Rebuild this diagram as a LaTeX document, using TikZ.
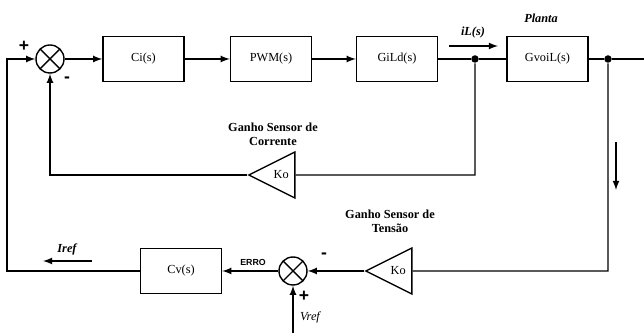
\documentclass[tikz,border=0pt]{standalone}
\usepackage{fontspec}
\setmainfont{Liberation Serif}
\setsansfont{Liberation Sans}
\usetikzlibrary{arrows,calc,shapes.geometric}

\begin{document}
\begin{tikzpicture}[x=0.2mm,y=-0.2mm,line width=0.8pt]
    \tikzstyle{every node}=[font=\fontsize{7}{8}\selectfont]
    \tikzstyle{block}=[draw, rectangle, minimum width=16.2mm, minimum height=9mm, inner sep=0]
    \tikzstyle{gain}=[draw, isosceles triangle, shape border rotate=180, isosceles triangle stretches,
        minimum width=9.2mm, minimum height=9.2mm, inner sep=0, anchor=apex]
    \tikzstyle{sumnode}=[draw, circle, minimum size=5.6mm, inner sep=0,
        path picture={\draw (path picture bounding box.north west)--(path picture bounding box.south east)
                            (path picture bounding box.north east)--(path picture bounding box.south west);}]
    \tikzstyle{sign}=[font=\sffamily\bfseries\fontsize{10}{10}\selectfont]
    \tikzstyle{lbl}=[font=\bfseries\itshape\fontsize{7}{8}\selectfont]
    \tikzstyle{dot}=[circle, fill, inner sep=0, minimum size=1.5mm]

    \useasboundingbox (0,0) rectangle (644,333);

    % forward path
    \node[sumnode] (s1) at (50,59) {};
    \node[block] (ci) at (143.5,59) {Ci(s)};
    \node[block] (pwm) at (271,59) {PWM(s)};
    \node[block] (gild) at (397,59) {GiLd(s)};
    \node[dot] (j1) at (475,59) {};
    \node[block] (gvo) at (547.5,59) {GvoiL(s)};
    \node[dot] (j2) at (608,59) {};
    \coordinate (out) at (644,59);

    \draw[-latex] (s1)--(ci);
    \draw[-latex] (ci)--(pwm);
    \draw[-latex] (pwm)--(gild);
    \draw (gild)--(j1)--(gvo);
    \draw (gvo)--(j2)--(out);

    % current loop
    \node[gain] (kc) at (247,175) {\hspace*{0.6mm}Ko};
    \coordinate (c1) at (475,175);
    \coordinate (c2) at (50,175);
    \draw (j1)--(c1)--(kc.east);
    \draw[-latex] (kc.apex)--(c2)--(s1.south);

    % voltage loop
    \node[gain] (kv) at (364,271) {\hspace*{0.6mm}Ko};
    \node[sumnode] (s2) at (293,271) {};
    \node[block] (cv) at (181,271) {Cv(s)};
    \coordinate (v1) at (608,271);
    \coordinate (vref) at (293,333);
    \coordinate (l1) at (7,271);
    \coordinate (l2) at (7,59);
    \draw (j2)--(v1)--(kv.east);
    \draw[-latex] (kv.apex)--(s2);
    \draw[-latex] (s2)--(cv);
    \draw[-latex] (vref)--(s2);
    \draw[-latex] (cv)--(l1)--(l2)--(s1);

    % signal arrows
    \coordinate (ia) at (449,46);
    \coordinate (ib) at (498,46);
    \draw[-latex] (ia)--(ib);
    \coordinate (ra) at (92,261);
    \coordinate (rb) at (43,261);
    \draw[-latex] (ra)--(rb);
    \coordinate (da) at (616,142);
    \coordinate (db) at (616,190);
    \draw[-latex] (da)--(db);

    % labels
    \node[lbl] (il) at (473,33) {iL(s)};
    \node[lbl] (pl) at (541,18) {Planta};
    \node[lbl] (ir) at (67,249) {Iref};
    \node[font=\itshape\fontsize{7}{8}\selectfont] (vr) at (310,317) {Vref};
    \node[font=\sffamily\bfseries\fontsize{5}{6}\selectfont] (er) at (253,262) {ERRO};
    \node[sign] (p1) at (24,46) {+};
    \node[sign] (m1) at (67,80) {-};
    \node[sign] (m2) at (324,256) {-};
    \node[sign] (p2) at (304,296) {+};
    \node[font=\bfseries\fontsize{7}{8}\selectfont, align=center] (gc) at (273,134) {Ganho Sensor de\\Corrente};
    \node[font=\bfseries\fontsize{7}{8}\selectfont, align=center] (gt) at (390,221) {Ganho Sensor de\\Tens\~ao};
\end{tikzpicture}
\end{document}
